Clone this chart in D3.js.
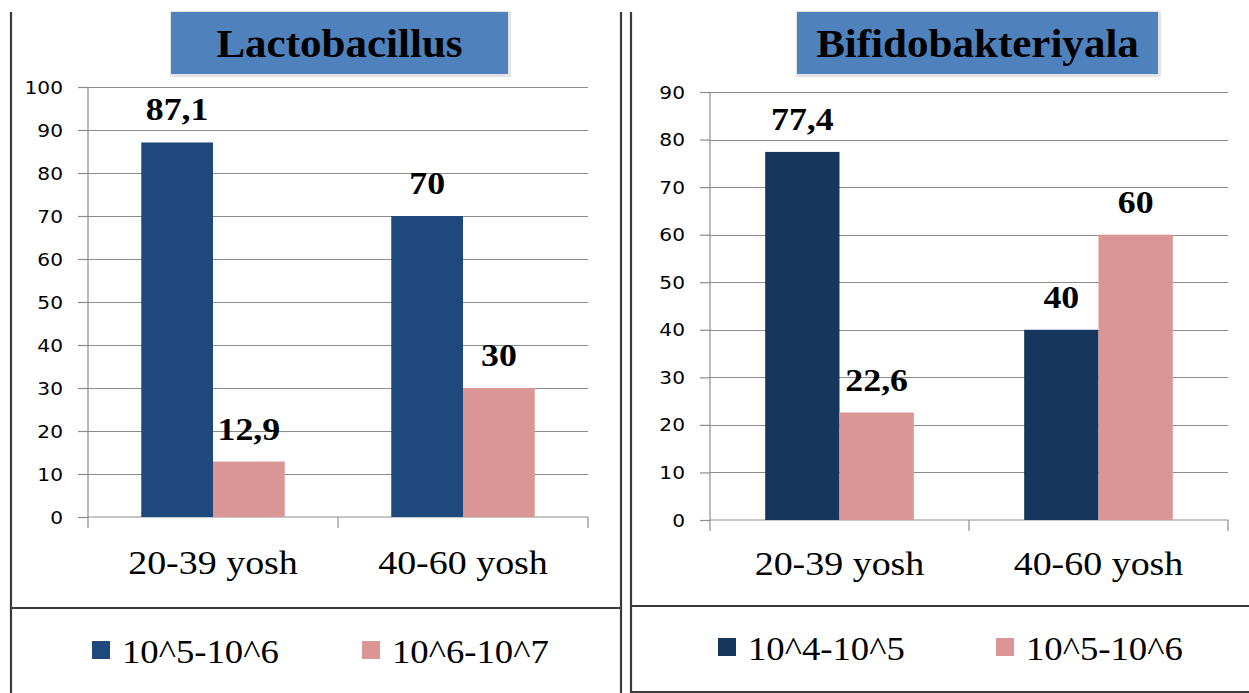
<!DOCTYPE html>
<html>
<head>
<meta charset="utf-8">
<script src="https://cdn.jsdelivr.net/npm/d3@7/dist/d3.min.js"></script>
<style>
  html, body { margin: 0; padding: 0; background: #ffffff; }
  svg { display: block; }
</style>
</head>
<body>
<svg id="chart" width="1249" height="693"></svg>
<script>
// Age groups shared by both panels
const categories = ["20-39 yosh", "40-60 yosh"];

// Lactobacillus panel
const lactoTitle = "Lactobacillus";
const lactoSeries = ["10^5-10^6", "10^6-10^7"];
const lactoLow = [87.1, 70];
const lactoHigh = [12.9, 30];
const lactoTicks = [0, 10, 20, 30, 40, 50, 60, 70, 80, 90, 100];

// Bifidobacteria panel
const bifidoTitle = "Bifidobakteriyala";
const bifidoSeries = ["10^4-10^5", "10^5-10^6"];
const bifidoLow = [77.4, 40];
const bifidoHigh = [22.6, 60];
const bifidoTicks = [0, 10, 20, 30, 40, 50, 60, 70, 80, 90];

const svg = d3.select("#chart");
const SX = 1.15; // horizontal text stretch
const serif = "'Liberation Serif', 'Times New Roman', serif";
const sans = "'DejaVu Sans', Verdana, sans-serif";
const fmt = v => String(v).replace(".", ",");

function stretchedText(g, x, y, txt, opts) {
  const t = g.append("text")
    .attr("transform", `translate(${x},${y}) scale(${opts.sx || SX},1)`)
    .attr("text-anchor", opts.anchor || "middle")
    .attr("font-family", opts.family || serif)
    .attr("font-size", opts.size)
    .attr("font-weight", opts.weight || "normal")
    .attr("fill", "#000")
    .text(txt);
  return t;
}

function panel(cfg) {
  const g = svg.append("g");

  // frame
  const frame = g.append("g").attr("stroke", "#3a3a3a").attr("stroke-width", 2.2);
  cfg.frameLines.forEach(l => frame.append("line")
    .attr("x1", l[0]).attr("y1", l[1]).attr("x2", l[2]).attr("y2", l[3]));

  // title box
  const tb = cfg.titleBox;
  g.append("rect").attr("x", tb.x - 1).attr("y", tb.y - 1).attr("width", tb.w + 4).attr("height", tb.h + 4)
    .attr("fill", "#e4e4e4");
  g.append("rect").attr("x", tb.x).attr("y", tb.y).attr("width", tb.w).attr("height", tb.h)
    .attr("fill", "#4f81bd");
  stretchedText(g, tb.x + tb.w / 2, tb.y + 45, cfg.title, { size: 41, weight: "bold", sx: 1.05 });

  // scales
  const x0 = d3.scaleBand().domain(categories).range(cfg.xRange).paddingInner(0).paddingOuter(0);
  const inner = d3.scaleBand().domain([0, 1])
    .range([x0.bandwidth() * 0.213, x0.bandwidth() * 0.787]).padding(0);
  const y = d3.scaleLinear().domain([0, cfg.yMax]).range(cfg.yRange);

  // gridlines
  g.append("g").selectAll("line").data(cfg.ticks.slice(1)).join("line")
    .attr("x1", cfg.xRange[0]).attr("x2", cfg.xRange[1])
    .attr("y1", d => Math.round(y(d)) + 0.5).attr("y2", d => Math.round(y(d)) + 0.5)
    .attr("stroke", "#8c8c8c").attr("stroke-width", 1.2);

  // y axis
  const yAxis = g.append("g")
    .attr("transform", `translate(${cfg.xRange[0]},0)`)
    .call(d3.axisLeft(y).tickValues(cfg.ticks).tickSize(10).tickPadding(0).tickFormat(""));
  yAxis.selectAll("path, line").attr("stroke", "#8c8c8c").attr("stroke-width", 1.2);
  yAxis.select(".domain").attr("d", `M0,${cfg.yRange[1]}V${cfg.yRange[0]}`);
  cfg.ticks.forEach(t => stretchedText(g, cfg.xRange[0] - 25, y(t) + 6.5, String(t),
    { size: 18, family: sans, anchor: "end", sx: 1.12 }));

  // x axis
  const xAxis = g.append("g")
    .attr("transform", `translate(0,${cfg.yRange[0]})`)
    .call(d3.axisBottom(x0).tickSize(0).tickFormat(""));
  xAxis.select(".domain").attr("stroke", "#8c8c8c").attr("stroke-width", 1.2)
    .attr("d", `M${cfg.xRange[0]},0H${cfg.xRange[1]}`);
  const bounds = [cfg.xRange[0], ...categories.map(c => x0(c) + x0.bandwidth())];
  xAxis.selectAll("line.tk").data(bounds).join("line").attr("class", "tk")
    .attr("x1", d => d).attr("x2", d => d).attr("y1", 0).attr("y2", 11)
    .attr("stroke", "#8c8c8c").attr("stroke-width", 1.2);

  // bars
  const rows = categories.map((c, i) => ({ c, vals: [cfg.low[i], cfg.high[i]] }));
  const grp = g.append("g").selectAll("g").data(rows).join("g")
    .attr("transform", d => `translate(${x0(d.c)},0)`);
  grp.selectAll("rect").data(d => d.vals.map((v, k) => ({ v, k }))).join("rect")
    .attr("x", d => inner(d.k))
    .attr("width", inner.bandwidth())
    .attr("y", d => y(d.v))
    .attr("height", d => y(0) - y(d.v))
    .attr("fill", d => cfg.colors[d.k]);

  // value labels
  rows.forEach(r => r.vals.forEach((v, k) => {
    stretchedText(g, x0(r.c) + inner(k) + inner.bandwidth() / 2, y(v) - 22, fmt(v),
      { size: 32, weight: "bold", sx: 1.12 });
  }));

  // category labels
  categories.forEach(c => stretchedText(g, x0(c) + x0.bandwidth() / 2, cfg.catY, c, { size: 33 }));

  // legend
  cfg.series.forEach((s, k) => {
    const lx = cfg.legendX[k];
    g.append("rect").attr("x", lx).attr("y", cfg.legendY - 22).attr("width", 18).attr("height", 18)
      .attr("fill", cfg.colors[k]);
    stretchedText(g, lx + 30, cfg.legendY, s, { size: 34, anchor: "start", sx: 1.08 });
  });
}

panel({
  title: lactoTitle,
  series: lactoSeries,
  low: lactoLow,
  high: lactoHigh,
  ticks: lactoTicks,
  yMax: 100,
  xRange: [88, 588],
  yRange: [517, 87],
  colors: ["#1f497d", "#d99694"],
  titleBox: { x: 171, y: 12, w: 337, h: 62 },
  catY: 574,
  legendX: [92, 362],
  legendY: 663,
  frameLines: [[11, 12, 11, 693], [621, 12, 621, 693], [11, 608, 621, 608]]
});

panel({
  title: bifidoTitle,
  series: bifidoSeries,
  low: bifidoLow,
  high: bifidoHigh,
  ticks: bifidoTicks,
  yMax: 90,
  xRange: [710, 1228],
  yRange: [520, 92],
  colors: ["#17365d", "#d99694"],
  titleBox: { x: 797, y: 12, w: 361, h: 62 },
  catY: 575,
  legendX: [718, 996],
  legendY: 660,
  frameLines: [[631, 12, 631, 693], [631, 606, 1249, 606], [631, 692, 1249, 692]]
});
</script>
</body>
</html>
